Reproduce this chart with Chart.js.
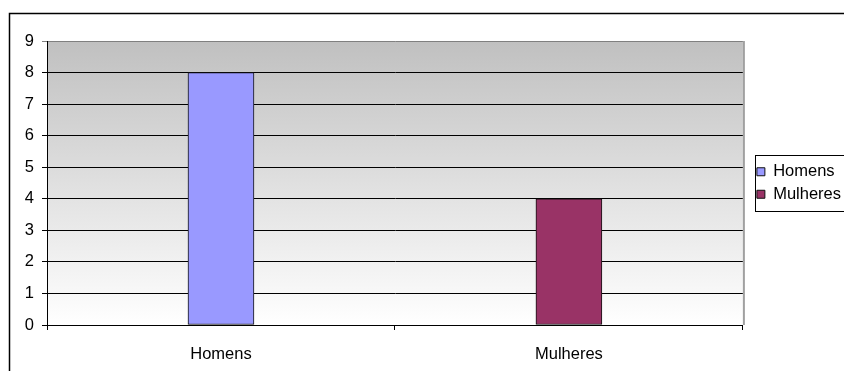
<!DOCTYPE html>
<html>
<head>
<meta charset="utf-8">
<script src="https://cdn.jsdelivr.net/npm/chart.js@4.4.1/dist/chart.umd.min.js"></script>
<style>
  html, body { margin: 0; padding: 0; background: #fff; }
  #wrap { width: 844px; height: 371px; }
</style>
</head>
<body>
<div id="wrap"><canvas id="grafico" width="844" height="371"></canvas></div>
<script>
// Datos del gráfico
const categorias = ['Homens', 'Mulheres'];
const homens = [8, null];
const mulheres = [null, 4];
const yMax = 9;

const fonte = { family: "'Liberation Sans', Arial, sans-serif", size: 16.5 };

// Fondo degradado del área y marco exterior
const marcoPlugin = {
    id: 'marco',
    beforeDraw(chart) {
        const { ctx, chartArea: a } = chart;
        ctx.save();
        ctx.fillStyle = '#fff';
        ctx.fillRect(0, 0, chart.width, chart.height);
        const grad = ctx.createLinearGradient(0, a.top, 0, a.bottom);
        grad.addColorStop(0, '#c0c0c0');
        grad.addColorStop(1, '#ffffff');
        ctx.fillStyle = grad;
        ctx.fillRect(a.left, a.top, a.right - a.left, a.bottom - a.top);
        ctx.restore();
    },
    afterDraw(chart) {
        const { ctx, chartArea: a } = chart;
        ctx.save();
        // borde derecho del área de trazado
        ctx.strokeStyle = '#a0a0a0';
        ctx.lineWidth = 2;
        ctx.beginPath();
        ctx.moveTo(a.right + 1, a.top);
        ctx.lineTo(a.right + 1, a.bottom);
        ctx.stroke();
        // marco exterior
        ctx.strokeStyle = '#000';
        ctx.lineWidth = 1.5;
        ctx.strokeRect(9.5, 13.5, chart.width + 20, chart.height + 20);
        // caja de la leyenda
        const boxes = chart.legend.legendHitBoxes;
        if (boxes && boxes.length) {
            const first = boxes[0], last = boxes[boxes.length - 1];
            ctx.lineWidth = 1;
            ctx.strokeRect(Math.round(first.left) - 1.5, Math.round(first.top) - 8.5,
                chart.width, Math.round(last.top + last.height - first.top) + 17);
        }
        ctx.restore();
    }
};

new Chart(document.getElementById('grafico'), {
    type: 'bar',
    data: {
        labels: categorias,
        datasets: [
            {
                label: 'Homens',
                data: homens,
                backgroundColor: '#9999ff',
                borderColor: '#111',
                borderWidth: 1,
                borderSkipped: false,
                skipNull: true
            },
            {
                label: 'Mulheres',
                data: mulheres,
                backgroundColor: '#993366',
                borderColor: '#111',
                borderWidth: 1,
                borderSkipped: false,
                skipNull: true
            }
        ]
    },
    options: {
        responsive: false,
        animation: false,
        devicePixelRatio: 1,
        layout: { padding: { top: 41, left: 0, right: -7, bottom: 0 } },
        datasets: { bar: { barThickness: 66 } },
        plugins: {
            legend: {
                position: 'right',
                fullSize: false,
                labels: {
                    boxWidth: 8,
                    boxHeight: 8,
                    padding: 6,
                    color: '#000',
                    font: fonte
                }
            },
            tooltip: { enabled: false }
        },
        scales: {
            x: {
                grid: {
                    drawOnChartArea: false,
                    drawTicks: true,
                    tickLength: 5,
                    color: '#000'
                },
                border: { color: '#000', width: 1 },
                ticks: { color: '#000', font: fonte, padding: 15 },
                afterFit(s) { s.height = 46; }
            },
            y: {
                min: 0,
                max: yMax,
                grid: {
                    color: ctx => (ctx.tick && ctx.tick.value === yMax) ? '#808080' : '#000',
                    tickLength: 5
                },
                border: { color: '#000', width: 1 },
                ticks: { stepSize: 1, color: '#000', font: fonte, padding: 8 },
                afterFit(s) { s.width = 47; }
            },
            y2: {
                position: 'right',
                display: true,
                grid: { display: false },
                border: { display: false },
                ticks: { display: false },
                afterFit(s) { s.width = 8; }
            }
        }
    },
    plugins: [marcoPlugin]
});
</script>
</body>
</html>
